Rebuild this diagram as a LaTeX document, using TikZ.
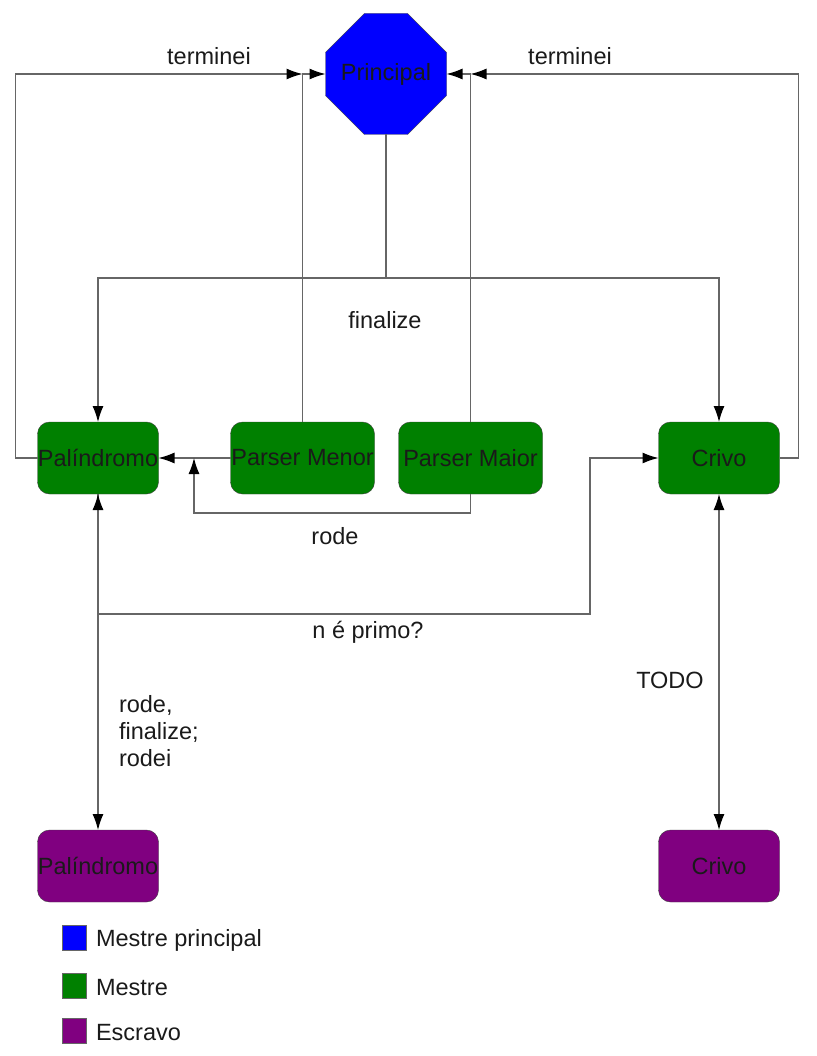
\documentclass[tikz,border=0pt]{standalone}
\usepackage{fontspec}
\setmainfont{Liberation Sans}
\usepackage{tikz}
\usetikzlibrary{positioning}
\usetikzlibrary{shapes.misc}
\usetikzlibrary{arrows.meta}

\definecolor{linhacinza}{HTML}{666666}
\definecolor{textocinza}{HTML}{1A1A1A}
\definecolor{mestreverde}{HTML}{008000}
\definecolor{escravoroxo}{HTML}{800080}

\begin{document}
\begin{tikzpicture}[x=1pt, y=-1pt,
		every node/.style={font=\fontsize{23.5}{27}\selectfont, text=textocinza, inner sep=0pt, outer sep=0pt},
		mestre/.style={draw=black!75, fill=mestreverde, rounded corners=12pt, minimum width=121pt, minimum height=72pt},
		escravo/.style={mestre, fill=escravoroxo},
		linha/.style={draw=linhacinza, line width=1.2pt},
		seta/.style={linha, -{Latex[length=16pt, width=11pt, black]}},
		dupla/.style={linha, {Latex[length=16pt, width=11pt, black]}-{Latex[length=16pt, width=11pt, black]}},
		legenda/.style={draw=black!60, minimum width=24pt, minimum height=25pt}]
			\useasboundingbox (0,0) rectangle (816,1056);
			% processos
			\node[draw=black!75, fill=blue, chamfered rectangle, chamfered rectangle xsep=28pt, chamfered rectangle ysep=28pt, minimum width=121pt, minimum height=121pt] (principal) at (386,74) {Principal};
			\node[mestre] (palM) at (98,458) {Palíndromo};
			\node[mestre, minimum width=144pt, right = 72pt of palM] (menor) {Parser Menor};
			\node[mestre, minimum width=144pt, right = 24pt of menor] (maior) {Parser Maior};
			\node[mestre, right = 116pt of maior] (crivoM) {Crivo};
			\node[escravo, below = 336pt of palM] (palE) {Palíndromo};
			\node[escravo, below = 336pt of crivoM] (crivoE) {Crivo};
			% conexoes
			\coordinate (chegaE) at (menor.north |- principal.west);
			\coordinate (chegaD) at (maior.north |- principal.east);
			\coordinate (divide) at (principal.south |- 0,278);
			\coordinate (rodeFim) at (194,458);
			\coordinate (primoCanto) at (590,614);
			\draw[seta] (palM.west) -- ++(-22,0) |- (chegaE);
			\draw[seta] (crivoM.east) -- ++(19,0) |- (chegaD);
			\draw[seta] (menor.north) |- (principal.west);
			\draw[seta] (maior.north) |- (principal.east);
			\draw[linha] (principal.south) -- (divide);
			\draw[seta] (divide) -| (palM.north);
			\draw[seta] (divide) -| (crivoM.north);
			\draw[seta] (menor.west) -- (palM.east);
			\draw[seta] (maior.south) -- ++(0,19) -| (rodeFim);
			\draw[seta] (palM.south) |- (primoCanto) |- (crivoM.west);
			\draw[dupla] (palM.south) -- (palE.north);
			\draw[dupla] (crivoM.south) -- (crivoE.north);
			% rotulos
			\node (termE) at (209,56) {terminei};
			\node (termD) at (570,56) {terminei};
			\node (finalize) at (385,320) {finalize};
			\node (rode) at (335,536) {rode};
			\node (primo) at (368,632) {n é primo?};
			\node (todo) at (670,680) {TODO};
			\node[align=left, anchor=west] (ciclo) at (119,731) {rode,\\finalize;\\rodei};
			% legenda
			\node[legenda, fill=blue] (legPrin) at (74,937.5) {};
			\node[legenda, fill=mestreverde] (legMestre) at (74,985.5) {};
			\node[legenda, fill=escravoroxo] (legEscravo) at (74,1030.5) {};
			\node[anchor=base west] (txtPrin) at (96,946) {Mestre principal};
			\node[anchor=base west] (txtMestre) at (96,995) {Mestre};
			\node[anchor=base west] (txtEscravo) at (96,1040) {Escravo};
		\end{tikzpicture}
\end{document}
